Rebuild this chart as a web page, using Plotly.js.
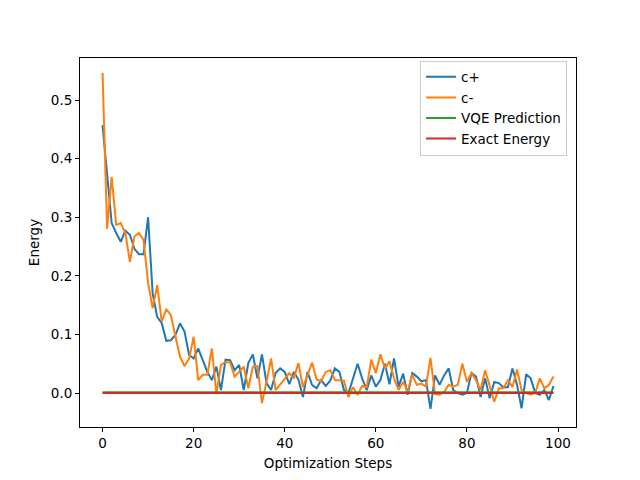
<!DOCTYPE html>
<html>
<head>
<meta charset="utf-8">
<script src="https://cdn.plot.ly/plotly-3.0.1.min.js"></script>
<style>body{margin:0;padding:0;background:#fff;} #chart{width:640px;height:480px;}</style>
</head>
<body>
<div id="chart"></div>
<script>
var steps = [];
for (var i = 0; i < 100; i++) steps.push(i);

var cPlus = [0.457,0.37,0.29,0.273,0.258,0.277,0.27,0.246,0.237,0.237,
0.30,0.17,0.13,0.119,0.089,0.09,0.099,0.119,0.105,0.065,
0.059,0.076,0.056,0.036,0.022,0.045,0.005,0.057,0.056,0.039,
0.048,0.005,0.051,0.066,0.025,0.066,0.017,0.005,0.034,0.042,
0.036,0.015,0.036,0.023,-0.007,0.036,0.014,0.008,0.022,0.012,
0.021,0.042,0.036,0.005,0.0,0.027,0.05,0.025,0.005,0.03,
0.011,0.022,0.05,0.015,0.059,0.011,0.033,-0.003,0.034,0.028,
0.02,0.022,-0.027,0.03,0.014,0.03,0.042,0.005,0.0,-0.003,
0.0,0.034,0.028,-0.007,0.025,-0.009,0.019,0.017,0.01,0.01,
0.042,0.014,-0.026,0.032,0.025,0.0,-0.003,0.005,-0.012,0.012];

var cMinus = [0.546,0.28,0.369,0.287,0.29,0.273,0.224,0.267,0.273,0.261,
0.188,0.145,0.184,0.122,0.143,0.133,0.097,0.062,0.046,0.059,
0.096,0.022,0.031,0.031,0.076,-0.002,0.048,0.053,0.052,0.028,
0.036,0.045,0.008,0.045,0.046,-0.017,0.019,0.059,0.005,0.014,
0.024,0.034,0.025,0.051,0.01,0.03,0.052,0.023,0.02,0.036,
0.039,0.022,0.022,0.021,-0.007,0.01,-0.003,0.012,0.01,0.057,
0.034,0.066,0.042,0.054,0.025,0.005,0.019,0.003,0.031,0.014,
0.016,0.011,0.06,-0.002,-0.003,0.002,0.014,0.011,0.014,0.05,
0.019,0.034,0.022,0.005,0.039,0.014,-0.015,0.008,0.008,0.022,
0.01,0.04,0.005,0.0,-0.003,0.0,0.025,0.008,0.014,0.028];

var vqeEnergy = 0.0015;
var exactEnergy = 0.0;
var vqe = steps.map(function(){ return vqeEnergy; });
var exact = steps.map(function(){ return exactEnergy; });

var font = "DejaVu Sans, sans-serif";
var traces = [
  {x: steps, y: cPlus, name: 'c+', mode: 'lines', line: {color: '#1f77b4', width: 2}},
  {x: steps, y: cMinus, name: 'c-', mode: 'lines', line: {color: '#ff7f0e', width: 2}},
  {x: steps, y: vqe, name: 'VQE Prediction', mode: 'lines', line: {color: '#2ca02c', width: 2}},
  {x: steps, y: exact, name: 'Exact Energy', mode: 'lines', line: {color: '#d62728', width: 2}}
];

var layout = {
  width: 640, height: 480,
  margin: {l: 80, r: 64, t: 58, b: 53, pad: 0},
  paper_bgcolor: '#fff', plot_bgcolor: '#fff',
  font: {family: font, size: 13.5, color: '#000'},
  showlegend: true,
  legend: {x: 0.982, y: 0.993, xanchor: 'right', yanchor: 'top',
    bgcolor: 'rgba(255,255,255,0.8)', bordercolor: '#cccccc', borderwidth: 1,
    font: {family: font, size: 13.5}, tracegroupgap: 0},
  xaxis: {
    range: [-4.95, 103.95], tickvals: [0,20,40,60,80,100],
    ticks: 'outside', ticklen: 4, tickwidth: 1, tickcolor: '#000',
    showgrid: false, zeroline: false, showline: true, linecolor: '#000', linewidth: 1, mirror: true,
    title: {text: 'Optimization Steps', font: {family: font, size: 13.5}, standoff: 8}
  },
  yaxis: {
    range: [-0.058, 0.5717], tickvals: [0,0.1,0.2,0.3,0.4,0.5], tickformat: '.1f',
    ticks: 'outside', ticklen: 4, tickwidth: 1, tickcolor: '#000',
    showgrid: false, zeroline: false, showline: true, linecolor: '#000', linewidth: 1, mirror: true,
    title: {text: 'Energy', font: {family: font, size: 13.5}, standoff: 8}
  }
};

Plotly.newPlot('chart', traces, layout, {displayModeBar: false, staticPlot: true});
</script>
</body>
</html>
